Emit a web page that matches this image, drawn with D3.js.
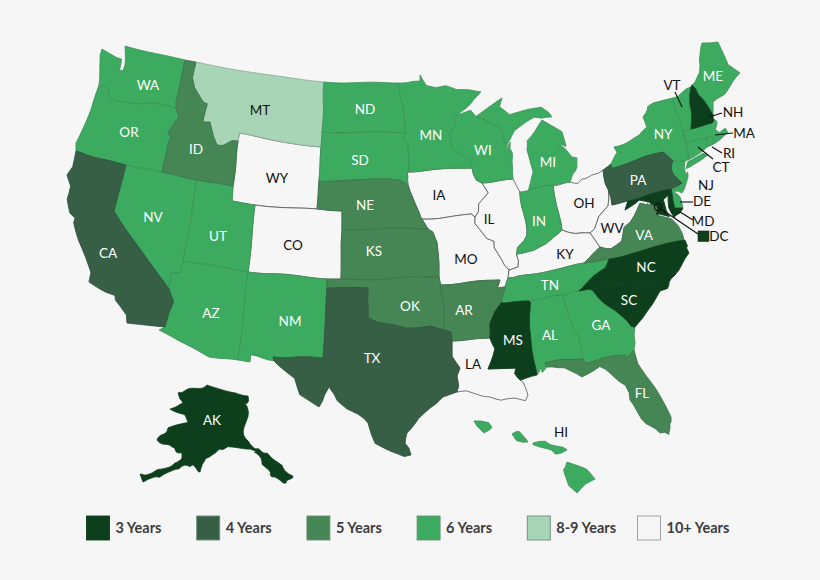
<!DOCTYPE html>
<html><head><meta charset="utf-8">
<script src="https://cdn.jsdelivr.net/npm/d3@7"></script>
<style>html,body{margin:0;background:#f6f6f6}svg{display:block}text{font-family:Lato,"Open Sans",sans-serif}</style>
</head><body><svg id="c" width="820" height="580"></svg>
<script>
const tierNames=["3 Years","4 Years","5 Years","6 Years","8-9 Years","10+ Years"];
const tierColors=["#0e3f1d","#375f45","#468654","#3cab5f","#a8d5b5","#f6f6f6"];
const tierStroke=["#0e3f1d","#2d4f39","#3a7147","#3a8f55","#8aa896","#555555"];
const years3=["NH","MS","NC","SC","MD","DC","AK"];
const years4=["CA","TX","PA"];
const years5=["ID","NE","KS","OK","AR","VA","FL"];
const years6=["WA","OR","NV","UT","AZ","NM","ND","SD","MN","WI","MI","IN","TN","AL","GA","NY","ME","VT","MA","CT","RI","NJ","DE","HI"];
const years89=["MT"];
const years10=["WY","CO","IA","MO","IL","OH","KY","WV","LA"];
const tiers=[years3,years4,years5,years6,years89,years10];

const shapes={
WA:[[[-124.7,48.4],[-123.2,48.15],[-122.75,48.15],[-122.6,47.4],[-122.3,47.5],[-122.3,47.9],[-122.5,48.4],[-122.8,49],[-117.03,49],[-117.04,46.42],[-116.92,45.99],[-118.98,46],[-119.3,45.93],[-120.5,45.7],[-121.2,45.65],[-122.25,45.55],[-122.75,45.65],[-123.1,46.15],[-123.95,46.2],[-124.1,46.7],[-124.4,47.3],[-124.7,48]]],
OR:[[[-124.2,42],[-120,42],[-117.03,42],[-117.03,43.8],[-116.9,44.2],[-117.2,44.4],[-116.5,45.5],[-116.92,45.99],[-118.98,46],[-119.3,45.93],[-120.5,45.7],[-121.2,45.65],[-122.25,45.55],[-122.75,45.65],[-123.1,46.15],[-123.95,46.2],[-124.07,44.7],[-124.55,42.84]]],
CA:[[[-124.2,42],[-120,42],[-120,39],[-114.63,35],[-114.14,34.3],[-114.5,33.6],[-114.72,32.72],[-117.12,32.53],[-117.3,33],[-118.4,33.75],[-118.5,34.03],[-119.2,34.15],[-120.6,34.55],[-120.65,35.15],[-121.9,36.6],[-122.5,37.5],[-122.5,37.8],[-123,38],[-123.7,38.9],[-123.8,39.8],[-124.35,40.4],[-124.1,41]]],
NV:[[[-120,42],[-114.04,42],[-114.04,36.2],[-114.74,36.1],[-114.63,35],[-120,39]]],
ID:[[[-117.03,49],[-116.05,49],[-116.05,48],[-115.7,47.45],[-114.7,46.7],[-114.35,46.65],[-114.5,45.55],[-113.9,45.65],[-113.45,44.95],[-113,44.45],[-111.05,44.47],[-111.05,42],[-117.03,42],[-117.03,43.8],[-116.9,44.2],[-117.2,44.4],[-116.5,45.5],[-116.92,45.99],[-117.04,46.42]]],
MT:[[[-116.05,49],[-104.05,49],[-104.05,45],[-111.05,45],[-111.05,44.47],[-113,44.45],[-113.45,44.95],[-113.9,45.65],[-114.5,45.55],[-114.35,46.65],[-114.7,46.7],[-115.7,47.45],[-116.05,48]]],
WY:[[[-111.05,45],[-104.05,45],[-104.05,41],[-111.05,41]]],
UT:[[[-114.04,42],[-111.05,42],[-111.05,41],[-109.05,41],[-109.05,37],[-114.04,37]]],
CO:[[[-109.05,41],[-102.05,41],[-102.05,37],[-109.05,37]]],
AZ:[[[-114.04,37],[-109.05,37],[-109.05,31.33],[-111.07,31.33],[-114.81,32.5],[-114.72,32.72],[-114.5,33.6],[-114.14,34.3],[-114.63,35],[-114.74,36.1],[-114.04,36.2]]],
NM:[[[-109.05,37],[-103,37],[-103.05,32],[-106.62,32],[-106.53,31.78],[-108.2,31.78],[-108.2,31.33],[-109.05,31.33]]],
ND:[[[-104.05,49],[-97.23,49],[-96.85,47.5],[-96.56,45.94],[-104.05,45.94]]],
SD:[[[-104.05,45.94],[-96.56,45.94],[-96.85,45.6],[-96.45,45.3],[-96.45,43.5],[-96.6,43.5],[-96.45,42.49],[-97.2,42.85],[-98.5,43],[-104.05,43]]],
NE:[[[-104.05,43],[-98.5,43],[-97.2,42.85],[-96.45,42.49],[-96.1,41.7],[-95.85,40.7],[-95.31,40],[-102.05,40],[-102.05,41],[-104.05,41]]],
KS:[[[-102.05,40],[-95.31,40],[-94.9,39.8],[-94.61,39.1],[-94.62,37],[-102.05,37]]],
OK:[[[-103,37],[-94.62,37],[-94.43,35.4],[-94.48,33.64],[-95.5,33.9],[-96.5,33.8],[-97.2,33.8],[-98.1,34.1],[-99.2,34.3],[-100,34.56],[-100,36.5],[-103,36.5]]],
TX:[[[-103.05,32],[-103,36.5],[-100,36.5],[-100,34.56],[-99.2,34.3],[-98.1,34.1],[-97.2,33.8],[-96.5,33.8],[-95.5,33.9],[-94.48,33.64],[-94.04,33.55],[-94.04,32],[-93.55,31.2],[-93.8,30.7],[-93.72,30.1],[-93.85,29.7],[-94.7,29.4],[-95.2,29],[-96.4,28.35],[-97.2,27.6],[-97.4,26.8],[-97.15,25.95],[-97.6,25.85],[-99.1,26.4],[-99.5,27.5],[-100.3,28.3],[-100.7,29.1],[-101.4,29.77],[-102.3,29.88],[-102.7,29.7],[-103.15,28.98],[-104.5,29.6],[-104.9,30.6],[-106.5,31.75],[-106.62,32]]],
MN:[[[-97.23,49],[-95.15,49],[-95.15,49.38],[-94.6,48.72],[-93.8,48.55],[-92.95,48.62],[-92,48.3],[-90.8,48.2],[-89.6,48],[-90.8,47.3],[-92.05,46.7],[-92.3,46.65],[-92.3,46.1],[-92.85,45.6],[-92.75,44.75],[-91.25,43.85],[-91.22,43.5],[-96.45,43.5],[-96.45,45.3],[-96.85,45.6],[-96.56,45.94],[-96.85,47.5]]],
IA:[[[-96.45,43.5],[-91.22,43.5],[-91.1,42.7],[-90.65,42.5],[-90.15,41.85],[-91,41.2],[-91.1,40.7],[-91.42,40.38],[-91.7,40.6],[-95.77,40.59],[-95.85,40.7],[-96.1,41.7],[-96.45,42.49],[-96.6,43.5]]],
MO:[[[-95.77,40.59],[-91.7,40.6],[-91.42,40.38],[-91.5,40],[-90.7,39],[-90.15,38.8],[-90.2,38.4],[-89.5,37.3],[-89.15,36.98],[-89.4,36.5],[-89.7,36],[-90.37,36],[-90.15,36.5],[-94.62,36.5],[-94.62,37],[-94.61,39.1],[-94.9,39.8],[-95.31,40]]],
AR:[[[-94.62,36.5],[-90.15,36.5],[-90.37,36],[-89.7,36],[-90.1,35.1],[-90.6,34.6],[-91.1,33.9],[-91.17,33],[-94.04,33],[-94.04,33.55],[-94.48,33.64],[-94.43,35.4]]],
LA:[[[-94.04,33],[-91.17,33],[-90.9,32.3],[-91.6,31],[-89.73,31],[-89.85,30.65],[-89.55,30.18],[-89.4,30.05],[-89.2,29.3],[-89.4,28.95],[-90.1,29.15],[-91,29.2],[-91.8,29.5],[-92.3,29.55],[-93.2,29.77],[-93.85,29.7],[-93.72,30.1],[-93.8,30.7],[-93.55,31.2],[-94.04,32]]],
WI:[[[-92.05,46.7],[-91.2,46.87],[-90.8,46.95],[-90.4,46.55],[-89.1,46.13],[-88.1,45.9],[-87.8,45.35],[-87.6,45.1],[-88,44.55],[-87.3,45.25],[-87.5,44.4],[-87.8,43.5],[-87.8,42.49],[-90.65,42.5],[-91.1,42.7],[-91.22,43.5],[-91.25,43.85],[-92.75,44.75],[-92.85,45.6],[-92.3,46.1],[-92.3,46.65]]],
IL:[[[-90.65,42.5],[-87.8,42.49],[-87.55,41.75],[-87.53,39.35],[-87.6,38.7],[-88.05,37.85],[-88.45,37.1],[-89.15,36.98],[-89.5,37.3],[-90.2,38.4],[-90.15,38.8],[-90.7,39],[-91.5,40],[-91.42,40.38],[-91.1,40.7],[-91,41.2],[-90.15,41.85]]],
IN:[[[-87.55,41.75],[-87.2,41.75],[-86.8,41.76],[-84.8,41.76],[-84.8,39.1],[-85.45,38.7],[-85.8,38.3],[-86.3,38],[-87,37.9],[-88.05,37.85],[-87.6,38.7],[-87.53,39.35]]],
MI:[[[-86.8,41.76],[-84.8,41.76],[-83.45,41.73],[-83.1,42.2],[-82.45,43],[-82.6,43.9],[-83.4,43.95],[-83.9,43.65],[-83.3,44.3],[-83.35,45.05],[-84.7,45.78],[-85.5,45.2],[-86.25,44.7],[-86.5,43.8],[-86.2,42.7]],
 [[-90.4,46.55],[-89.1,46.13],[-88.1,45.9],[-87.8,45.35],[-87.6,45.1],[-87,45.75],[-86.3,45.9],[-85.5,46.1],[-84.75,45.9],[-84,46],[-84.5,46.45],[-85,46.77],[-86.1,46.67],[-87.4,46.5],[-88.2,46.95],[-87.9,47.47],[-88.9,47.1]]],
OH:[[[-84.8,41.7],[-83.45,41.73],[-82.7,41.5],[-81.7,41.5],[-80.52,42],[-80.52,40.64],[-80.85,39.7],[-81.7,39.2],[-82.2,38.6],[-82.6,38.42],[-83.7,38.65],[-84.8,39.1]]],
KY:[[[-89.4,36.5],[-89.15,36.98],[-88.45,37.1],[-88.05,37.85],[-87,37.9],[-86.3,38],[-85.8,38.3],[-85.45,38.7],[-84.8,39.1],[-83.7,38.65],[-82.6,38.42],[-81.97,37.54],[-83.68,36.6],[-88.05,36.5]]],
TN:[[[-90.1,35.1],[-89.7,36],[-89.4,36.5],[-88.05,36.5],[-83.68,36.6],[-81.68,36.59],[-82,36.1],[-83,35.75],[-84.3,35],[-88.2,35]]],
MS:[[[-90.1,35.1],[-88.2,35],[-88.1,34.9],[-88.45,31.9],[-88.4,30.37],[-89.55,30.18],[-89.85,30.65],[-89.73,31],[-91.6,31],[-90.9,32.3],[-91.17,33],[-91.1,33.9],[-90.6,34.6]]],
AL:[[[-88.2,35],[-85.6,35],[-85.18,32.87],[-85,32.3],[-85,31],[-87.6,31],[-87.45,30.35],[-87.9,30.25],[-88,30.7],[-88.4,30.37],[-88.45,31.9],[-88.1,34.9]]],
GA:[[[-85.6,35],[-83.1,35],[-83.35,34.7],[-81.9,33.4],[-81.1,32.1],[-80.85,32.03],[-81.4,30.72],[-82.05,30.36],[-82.2,30.57],[-84.86,30.71],[-85,31],[-85,32.3],[-85.18,32.87]]],
FL:[[[-87.6,31],[-85,31],[-84.86,30.71],[-82.2,30.57],[-82.05,30.36],[-81.4,30.72],[-81.3,29.9],[-80.55,28.45],[-80.03,26.8],[-80.15,25.75],[-80.4,25.2],[-81.1,25.13],[-81.8,26.1],[-82.2,26.9],[-82.75,27.8],[-82.65,28.7],[-83.4,29.5],[-84,30.1],[-85.3,29.68],[-86.3,30.4],[-87.45,30.35]]],
SC:[[[-83.35,34.7],[-83.1,35],[-82.3,35.2],[-81.05,35.15],[-80.8,34.82],[-79.67,34.8],[-78.55,33.86],[-79.2,33.2],[-80.85,32.03],[-81.1,32.1],[-81.9,33.4]]],
NC:[[[-84.3,35],[-83,35.75],[-82,36.1],[-81.68,36.59],[-75.87,36.55],[-75.5,35.25],[-76.5,34.65],[-77.9,33.93],[-78.55,33.86],[-79.67,34.8],[-80.8,34.82],[-81.05,35.15],[-82.3,35.2],[-83.1,35]]],
VA:[[[-83.68,36.6],[-81.97,37.54],[-81.25,37.25],[-80.3,37.5],[-79.9,38.2],[-79.3,38.42],[-78.87,38.77],[-78.35,39.4],[-77.83,39.13],[-77.5,39.1],[-77.05,38.85],[-77.3,38.4],[-76.3,37.9],[-76.3,37],[-75.97,36.55],[-81.68,36.59]]],
WV:[[[-82.6,38.42],[-82.2,38.6],[-81.7,39.2],[-80.85,39.7],[-80.52,40.64],[-80.52,39.72],[-79.48,39.72],[-79.48,39.2],[-78.4,39.62],[-77.72,39.32],[-77.83,39.13],[-78.35,39.4],[-78.87,38.77],[-79.3,38.42],[-79.9,38.2],[-80.3,37.5],[-81.25,37.25],[-81.97,37.54]]],
MD:[[[-79.48,39.72],[-75.79,39.72],[-75.7,38.46],[-75.05,38.45],[-75.25,38.03],[-75.95,37.9],[-76.2,38.6],[-76.1,39.35],[-76.5,39.2],[-76.45,38.5],[-76.35,38.05],[-77.05,38.4],[-77.3,38.4],[-77.05,38.85],[-77.5,39.1],[-77.72,39.32],[-78.4,39.62],[-79.48,39.2]]],
DE:[[[-75.79,39.72],[-75.4,39.8],[-75.6,39.45],[-75.1,38.8],[-75.05,38.45],[-75.7,38.46]]],
PA:[[[-80.52,42],[-79.76,42.27],[-79.76,42],[-75.35,42],[-74.7,41.36],[-75.1,40.95],[-75.2,40.65],[-74.75,40.2],[-75.4,39.8],[-75.79,39.72],[-80.52,39.72]]],
NJ:[[[-74.7,41.36],[-73.9,41],[-74.25,40.45],[-74,40.4],[-74.1,39.75],[-74.9,38.95],[-75.5,39.5],[-75.4,39.8],[-74.75,40.2],[-75.2,40.65],[-75.1,40.95]]],
NY:[[[-79.76,42],[-75.35,42],[-74.7,41.36],[-73.9,41],[-73.65,41],[-73.5,41.3],[-73.5,42.05],[-73.27,42.75],[-73.25,43.6],[-73.4,44],[-73.34,45],[-74.7,45],[-75.3,44.85],[-76.35,44.15],[-76.2,43.55],[-77,43.28],[-79.05,43.27],[-78.9,42.9],[-79.76,42.27]],
 [[-74,40.6],[-73.7,40.9],[-72.3,41.15],[-71.9,41.05],[-72.6,40.8],[-73.7,40.58]]],
CT:[[[-73.5,42.05],[-71.8,42.02],[-71.85,41.33],[-73.65,41],[-73.5,41.3]]],
RI:[[[-71.8,42.02],[-71.38,42.02],[-71.13,41.5],[-71.85,41.33]]],
MA:[[[-73.5,42.05],[-73.27,42.75],[-71.3,42.7],[-70.8,42.87],[-70.6,42.65],[-71,42.3],[-70.6,41.95],[-70.05,42.05],[-69.95,41.7],[-70.65,41.55],[-71.13,41.5],[-71.38,42.02],[-71.8,42.02]]],
VT:[[[-73.27,42.75],[-72.46,42.73],[-72.05,44.2],[-71.5,45.01],[-73.34,45],[-73.4,44],[-73.25,43.6]]],
NH:[[[-72.46,42.73],[-71.3,42.7],[-70.8,42.87],[-70.7,43.07],[-71.05,44.5],[-71.08,45.3],[-71.5,45.01],[-72.05,44.2]]],
ME:[[[-71.08,45.3],[-70.8,45.4],[-70.3,45.9],[-70,46.7],[-69.23,47.45],[-68.3,47.35],[-67.8,47.07],[-67.78,45.9],[-67.45,45.3],[-67,44.85],[-68.5,44.3],[-69.1,44],[-70.2,43.6],[-70.7,43.07],[-71.05,44.5]]],
DC:[[[-77.12,38.93],[-77.04,39],[-76.91,38.89],[-77.04,38.79]]]
};
const alaska=[[[-141,69.65],[-141,65],[-141,60.3],[-139.5,59.8],[-135.5,59.8],[-133,57.5],[-130,55.9],[-130.3,54.8],[-133,55],[-135,57],[-138,58.9],[-141.5,60],[-144,60],[-146,60.7],[-148.3,60.2],[-149.7,59.7],[-150,60.8],[-151,60],[-152,58.5],[-154,58.5],[-156.5,57],[-160,55.5],[-164,54.5],[-164.8,54.9],[-161,56],[-158.5,57],[-157.3,58.2],[-157.5,58.8],[-161.5,59],[-165,60.5],[-164,63],[-161,64],[-162,64.6],[-167,65.4],[-163,66.3],[-166.4,68.3],[-163.5,69],[-156.6,71.3],[-148,70.3]]];
const hawaii=[[[-159.78,22.07],[-159.6,22.2],[-159.4,22.23],[-159.3,22.05],[-159.35,21.95],[-159.55,21.88],[-159.72,21.95]],
[[-158.27,21.57],[-158.1,21.68],[-157.97,21.7],[-157.75,21.45],[-157.65,21.3],[-157.85,21.27],[-158.1,21.3]],
[[-157.3,21.12],[-157.05,21.2],[-156.8,21.2],[-156.6,21.02],[-156.3,20.95],[-156.1,20.88],[-156,20.75],[-156.2,20.62],[-156.4,20.58],[-156.55,20.78],[-156.75,20.85],[-157.3,21.05]],
[[-155.9,20.25],[-155.6,20.12],[-155.1,19.9],[-154.8,19.5],[-155.2,19.25],[-155.65,18.92],[-155.9,19.1],[-155.95,19.4],[-156.05,19.75]]];

// Rubber-sheet tie points: lon, lat read against the reference picture position.
const tieLonLat=[[-124.7,48.4],[-122.8,49],[-117.03,49],[-116.05,49],[-116.92,45.99],[-123.95,46.2],[-124.2,42],[-124.55,42.84],[-120,42],[-117.03,42],[-114.04,42],[-111.05,42],[-111.05,44.47],[-113,44.45],[-120,39],[-114.63,35],[-120.6,34.55],[-122.5,37.8],[-124.35,40.4],[-117.12,32.53],[-114.72,32.72],[-114.81,32.5],[-111.07,31.33],[-109.05,31.33],[-114.04,37],[-109.05,37],[-109.05,41],[-111.05,41],
[-104.05,49],[-97.23,49],[-104.05,45.94],[-96.56,45.94],[-104.05,45],[-104.05,43],[-104.05,41],[-102.05,41],[-102.05,40],[-95.31,40],[-96.45,43.5],[-96.45,42.49],[-95.15,49.38],[-91.22,43.5],
[-102.05,37],[-94.62,37],[-103,37],[-103,36.5],[-100,36.5],[-100,34.56],[-94.48,33.64],[-94.04,33.55],[-94.04,33],[-103.05,32],[-106.62,32],[-108.2,31.33],[-103.15,28.98],[-100.7,29.1],[-99.5,27.5],[-97.15,25.95],[-94.7,29.4],[-93.85,29.7],[-97.2,27.6],[-94.62,36.5],[-90.15,36.5],
[-91.17,33],[-91.6,31],[-89.73,31],[-88.4,30.37],[-88.2,35],[-90.1,35.1],[-85.6,35],[-85,31],[-82.2,30.57],[-81.4,30.72],[-87.6,31],[-81.1,25.13],[-80.03,26.8],[-80.15,25.75],[-82.75,27.8],[-83.4,29.5],[-85.3,29.68],[-87.45,30.35],[-80.85,32.03],[-83.35,34.7],[-83.1,35],[-84.3,35],[-81.68,36.59],[-75.87,36.55],[-75.5,35.25],[-76.5,34.65],[-78.55,33.86],[-79.67,34.8],[-81.05,35.15],[-89.4,36.5],[-88.05,36.5],[-83.68,36.6],[-81.97,37.54],[-84.8,39.1],[-87,37.9],[-89.15,36.98],[-89.2,29.3],[-91.8,29.5],[-76.3,37],
[-87.8,42.49],[-90.65,42.5],[-87.53,41.75],[-84.8,41.76],[-87.53,39.35],[-83.45,41.73],[-80.52,42],[-92.05,46.7],[-89.6,48],[-87.9,47.47],[-84.5,46.45],[-87.6,45.1],[-84.7,45.78],[-82.6,43.9],[-83.9,43.65],[-82.45,43],[-86.5,43.8],[-92.85,45.6],[-92.75,44.75],[-81.7,41.5],
[-80.52,39.72],[-79.48,39.72],[-79.48,39.2],[-77.05,38.85],[-75.79,39.72],[-75.35,42],[-74.7,41.36],[-74.75,40.2],[-79.05,43.27],[-76.35,44.15],[-74.7,45],[-73.34,45],[-73.25,43.6],[-73.5,42.05],[-71.8,42.02],[-73.65,41],[-71.9,41.05],[-71.5,45.01],[-73.27,42.75],[-72.46,42.73],[-71.3,42.7],[-70.7,43.07],[-71.08,45.3],[-69.23,47.45],[-68.3,47.35],[-67.8,47.07],[-67,44.85],[-70.2,43.6],[-69.95,41.7],[-71.85,41.33],[-74.9,38.95],[-74.1,39.75],[-75.05,38.45],[-75.25,38.03]];
const tiePx=[[102,49],[125,46],[185,60],[196,62],[176,108],[99,85],[76,151],[76,143],[126,165],[162,172],[197,180],[233,186],[238,141],[217,145],[114,211],[169,289],[89,282],[75,218],[67,175],[127,323],[165,327],[159,330],[209,357],[238,360],[183,261],[248,272],[255,205],[232,201],
[324,82],[398,83],[322,132],[406,133],[321,147],[319,181],[317,209],[342,211],[342,230],[428,229],[409,172],[408,185],[420,75],[472,168],
[341,279],[439,277],[327,279],[327,288],[368,288],[368,318],[444,330],[451,332],[452,341],[323,358],[273,357],[250,362],[319,407],[334,394],[368,423],[411,455],[443,397],[457,392],[407,433],[440,285],[500,280],
[490,338],[488,369],[516,368],[537,375],[529,301],[501,303],[563,295],[583,359],[625,355],[634,350],[545,363],[660,433],[671,417],[670,428],[630,400],[610,373],[582,377],[547,367],[635,327],[594,292],[592,290],[579,291],[609,259],[685,240],[689,253],[675,275],[660,291],[643,280],[613,280],[508,278],[525,275],[584,263],[600,247],[562,230],[523,253],[509,270],[528,395],[490,397],[682,233],
[513,179],[482,183],[520,192],[553,185],[527,230],[570,182],[603,170],[457,115],[481,92],[502,98],[548,112],[507,145],[542,120],[577,158],[558,148],[577,167],[527,150],[450,133],[452,148],[587,178],
[612,205],[628,201],[625,210],[658,207],[671,189],[663,152],[673,161],[682,183],[614,147],[643,117],[653,103],[673,98],[678,115],[686,143],[707,138],[688,160],[708,155],[691,87],[683,132],[691,129],[712,123],[713,115],[692,85],[702,43],[718,42],[724,55],[740,73],[713,102],[728,133],[707,147],[682,193],[688,177],[683,208],[680,213]];
const akTiePx=[[248,396],[248,410],[250,444],[256,449],[267,453],[280,464],[293,476],[286,483],[272,477],[264,466],[256,453],[248,449],[230,447],[220,449],[212,455],[207,458],[208,457],[205,460],[200,472],[192,465],[180,468],[160,477],[143,482],[140,474],[157,470],[173,465],[182,458],[182,453],[172,447],[157,440],[168,428],[188,422],[185,415],[170,409],[183,403],[178,393],[183,392],[207,385],[230,392]];
const hiTieLonLat=[[-159.78,22.07],[-159.3,22.05],[-159.55,21.88],[-158.27,21.57],[-157.65,21.3],[-157.3,21.12],[-156.3,20.95],[-156,20.75],[-155.9,20.25],[-154.8,19.5],[-155.65,18.92],[-155.95,19.4]];
const hiTiePx=[[474,421],[492,427],[484,433],[512,434],[528,442],[533,443],[556,446],[567,450],[567,462],[595,479],[577,493],[565,475]];

const labelText=["WA","OR","CA","NV","ID","MT","WY","UT","CO","AZ","NM","ND","SD","NE","KS","OK","TX","MN","IA","MO","AR","LA","WI","IL","MI","IN","OH","KY","TN","MS","AL","GA","FL","SC","NC","VA","WV","PA","NY","ME","VT","NH","MA","RI","CT","NJ","DE","MD","DC","HI","AK"];
const labelX=[148,129,108,153,196,260,277,218,293,211,290,365,360,365,374,410,372,431,439,466,464,473,483,489,548,539,584,565,550,513,550,601,642,629,646,644,612,638,663,713,672,733,744,729,721,706,702,703,719,561,212];
const labelY=[85,132,253,217,149,110,178,236,245,313,321,109,160,205,251,306,358,135,195,259,310,364,150,219,162,221,203,254,285,340,335,325,393,300,267,235,228,180,134,76,85,112,133,153,167,185,201,221,236,432,420];
const blackLabels=["MT","WY","CO","IA","MO","LA","IL","OH","KY","WV","VT","NH","MA","RI","CT","NJ","DE","MD","DC","HI"];
const leaderFrom=[[675,92],[709,117],[715,135],[712,147],[698,147],[680,202],[680,212],[658,207]];
const leaderTo=[[682,107],[722,113],[733,133],[722,153],[713,159],[693,202],[693,220],[698,234]];

const svg=d3.select("#c");
svg.append("rect").attr("width",820).attr("height",580).attr("fill","#f6f6f6");
const baseMain=d3.geoConicEqualArea().parallels([29.5,45.5]).rotate([96,0]).center([0,37.5]).scale(922).translate([415,270]);
const baseAk=d3.geoConicEqualArea().parallels([55,65]).rotate([154,0]).center([0,60]).scale(1);
baseAk.fitExtent([[140,385],[293,482]],{type:"MultiPoint",coordinates:alaska.flat()});
const baseHi=d3.geoEquirectangular().rotate([157,0]).scale(1);
baseHi.fitExtent([[473,418],[595,492]],{type:"MultiPoint",coordinates:hawaii.flat()});
function sheet(base,ll,px,pow){
  const src=ll.map(base),dx=src.map((s,i)=>[px[i][0]-s[0],px[i][1]-s[1]]);
  return p=>{const b=base(p);let wx=0,wy=0,w=0;
    for(let i=0;i<src.length;i++){const d2=(b[0]-src[i][0])**2+(b[1]-src[i][1])**2;
      if(d2<1e-6)return px[i].slice();
      const k=Math.pow(d2,-pow/2);wx+=k*dx[i][0];wy+=k*dx[i][1];w+=k;}
    return [b[0]+wx/w,b[1]+wy/w];};
}
const main=sheet(baseMain,tieLonLat,tiePx,3);
const ak=sheet(baseAk,alaska[0],akTiePx,3);
const hi=sheet(baseHi,hiTieLonLat,hiTiePx,2.5);
const tierOf=s=>tiers.findIndex(t=>t.includes(s));
const line=d3.line().curve(d3.curveLinearClosed);
function dense(r){const o=[];r.forEach((p,i)=>{const q=r[(i+1)%r.length];const d=Math.hypot(q[0]-p[0],q[1]-p[1]);const n=Math.max(1,Math.ceil(d/0.5));for(let k=0;k<n;k++)o.push([p[0]+(q[0]-p[0])*k/n,p[1]+(q[1]-p[1])*k/n]);});return o;}
const toPath=(rings,proj)=>rings.map(r=>line(dense(r).map(proj))).join("");
const order=[...years10,...years89,...years6,...years5,...years4,...years3];
const all=order.map(s=>({s,d:s==="AK"?toPath(alaska,ak):s==="HI"?toPath(hawaii,hi):toPath(shapes[s],main)}));
svg.append("g").selectAll("path").data(all).join("path").attr("d",d=>d.d)
 .attr("fill",d=>tierColors[tierOf(d.s)]).attr("stroke",d=>tierStroke[tierOf(d.s)]).attr("stroke-width",0.8).attr("stroke-linejoin","round");
svg.append("g").selectAll("line").data(leaderFrom).join("line")
 .attr("x1",d=>d[0]).attr("y1",d=>d[1]).attr("x2",(d,i)=>leaderTo[i][0]).attr("y2",(d,i)=>leaderTo[i][1]).attr("stroke","#111").attr("stroke-width",1.1);
svg.append("circle").attr("cx",658).attr("cy",207).attr("r",3.6).attr("fill","none").attr("stroke","#111").attr("stroke-width",1.1);
svg.append("rect").attr("x",698).attr("y",231).attr("width",11).attr("height",10.5).attr("fill",tierColors[0]).attr("stroke","#222").attr("stroke-width",0.6);
svg.append("g").selectAll("text").data(labelText).join("text").text(d=>d)
 .attr("x",(d,i)=>labelX[i]).attr("y",(d,i)=>labelY[i]).attr("text-anchor","middle").attr("dominant-baseline","central")
 .attr("font-size",13.5).attr("fill",d=>blackLabels.includes(d)?"#111":"#fff");
const lg=svg.append("g").selectAll("g").data(tierNames).join("g").attr("transform",(d,i)=>`translate(${86.5+i*110.2},516)`);
lg.append("rect").attr("width",23).attr("height",24).attr("fill",(d,i)=>tierColors[i]).attr("stroke",(d,i)=>i==5?"#999":i==0?"#0e3f1d":"#6b8f78").attr("stroke-width",0.9);
lg.append("text").text(d=>d).attr("x",29).attr("y",11).attr("dominant-baseline","central").attr("font-size",14.5).attr("font-weight",700).attr("fill","#3c3c3c");
</script></body></html>
